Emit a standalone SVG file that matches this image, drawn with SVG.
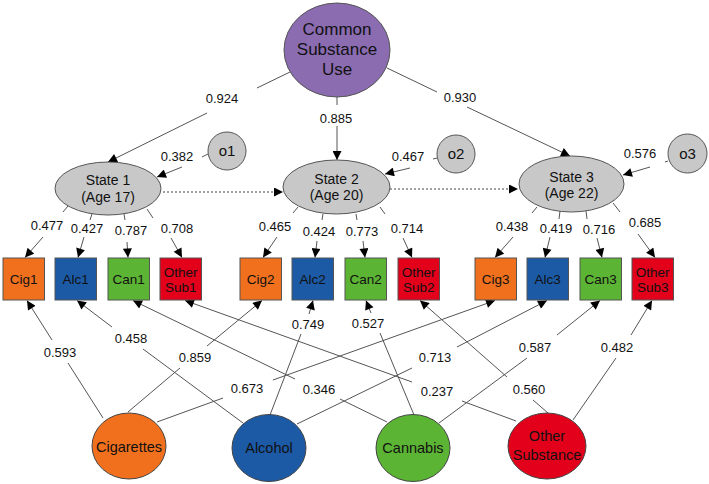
<svg xmlns="http://www.w3.org/2000/svg" width="709" height="484" viewBox="0 0 709 484">
<defs>
<marker id="arr" viewBox="0 0 10 10" refX="10" refY="5" markerWidth="11" markerHeight="9" markerUnits="userSpaceOnUse" orient="auto">
<path d="M0,0 L10,5 L0,10 z" fill="#000"/>
</marker>
</defs>
<style>
text{font-family:"Liberation Sans",Arial,sans-serif;fill:#111;text-anchor:middle}
.lbl{font-size:13px}
.ln{stroke:#555;stroke-width:1;fill:none}
.dot{stroke:#444;stroke-width:1.2;stroke-dasharray:2,2;fill:none}
.st{fill:#c8c8c8;stroke:#555;stroke-width:1}
.st text{font-size:14px}
.err{fill:#c8c8c8;stroke:#555;stroke-width:1}
.box{stroke:#555;stroke-width:1}
.bt{font-size:13.5px}
.lat{stroke:#444;stroke-width:1}
.lt{font-size:14.5px}
.cig{fill:#f0701e}.alc{fill:#1c5aa6}.can{fill:#5cb434}.oth{fill:#e3001b}
</style>
<rect width="709" height="484" fill="#fff"/>
<g id="connectors">
<line class="ln" x1="290" y1="72" x2="257" y2="88"/><line class="ln" x1="207" y1="113" x2="108" y2="162" marker-end="url(#arr)"/>
<line class="ln" x1="337" y1="97" x2="337" y2="105"/><line class="ln" x1="337" y1="126" x2="337" y2="160" marker-end="url(#arr)"/>
<line class="ln" x1="387" y1="68" x2="437" y2="92"/><line class="ln" x1="467" y1="107" x2="570" y2="156" marker-end="url(#arr)"/>
<line class="ln" x1="208" y1="154" x2="202" y2="157"/><line class="ln" x1="182" y1="167" x2="157" y2="177" marker-end="url(#arr)"/>
<line class="ln" x1="437" y1="158" x2="433" y2="159"/><line class="ln" x1="410" y1="168" x2="385" y2="174" marker-end="url(#arr)"/>
<line class="ln" x1="668" y1="161" x2="665" y2="162"/><line class="ln" x1="650" y1="167" x2="623" y2="175" marker-end="url(#arr)"/>
<line class="dot" x1="163" y1="192" x2="283" y2="192" marker-end="url(#arr)"/>
<line class="dot" x1="390" y1="189" x2="518" y2="189" marker-end="url(#arr)"/>
<line class="ln" x1="68" y1="206" x2="63" y2="212"/><line class="ln" x1="43" y1="237" x2="25" y2="257.5" marker-end="url(#arr)"/>
<line class="ln" x1="92" y1="214" x2="90" y2="220"/><line class="ln" x1="84" y1="237" x2="78" y2="257.5" marker-end="url(#arr)"/>
<line class="ln" x1="124" y1="214" x2="125" y2="220"/><line class="ln" x1="127" y1="242" x2="128" y2="257.5" marker-end="url(#arr)"/>
<line class="ln" x1="147" y1="209" x2="153" y2="218"/><line class="ln" x1="171" y1="238" x2="182" y2="257.5" marker-end="url(#arr)"/>
<line class="ln" x1="298" y1="207" x2="293" y2="213"/><line class="ln" x1="277" y1="237" x2="263" y2="257.5" marker-end="url(#arr)"/>
<line class="ln" x1="323" y1="214" x2="322" y2="220"/><line class="ln" x1="317" y1="241" x2="315" y2="257.5" marker-end="url(#arr)"/>
<line class="ln" x1="356" y1="214" x2="357" y2="220"/><line class="ln" x1="363" y1="241" x2="365" y2="257.5" marker-end="url(#arr)"/>
<line class="ln" x1="380" y1="207" x2="385" y2="214"/><line class="ln" x1="403" y1="238" x2="412" y2="257.5" marker-end="url(#arr)"/>
<line class="ln" x1="537" y1="207" x2="532" y2="213"/><line class="ln" x1="513" y1="237" x2="495" y2="257.5" marker-end="url(#arr)"/>
<line class="ln" x1="560" y1="211" x2="559" y2="219"/><line class="ln" x1="550" y1="237" x2="545" y2="257.5" marker-end="url(#arr)"/>
<line class="ln" x1="586" y1="211" x2="587" y2="219"/><line class="ln" x1="597" y1="238" x2="602" y2="257.5" marker-end="url(#arr)"/>
<line class="ln" x1="613" y1="203" x2="620" y2="212"/><line class="ln" x1="638" y1="234" x2="655" y2="257.5" marker-end="url(#arr)"/>
<line class="ln" x1="103" y1="418" x2="68" y2="363"/><line class="ln" x1="52" y1="340" x2="27" y2="300.5" marker-end="url(#arr)"/>
<line class="ln" x1="128" y1="412" x2="180" y2="368"/><line class="ln" x1="207" y1="346" x2="262" y2="300.5" marker-end="url(#arr)"/>
<line class="ln" x1="157" y1="422" x2="223" y2="398"/><line class="ln" x1="273" y1="380" x2="495" y2="300.5" marker-end="url(#arr)"/>
<line class="ln" x1="243" y1="423" x2="143" y2="349"/><line class="ln" x1="112" y1="327" x2="77" y2="300.5" marker-end="url(#arr)"/>
<line class="ln" x1="270" y1="415" x2="301" y2="334"/><line class="ln" x1="309" y1="314" x2="313" y2="300.5" marker-end="url(#arr)"/>
<line class="ln" x1="297" y1="424" x2="412" y2="368"/><line class="ln" x1="457" y1="347" x2="547" y2="300.5" marker-end="url(#arr)"/>
<line class="ln" x1="387" y1="422" x2="340" y2="399"/><line class="ln" x1="295" y1="379" x2="133" y2="300.5" marker-end="url(#arr)"/>
<line class="ln" x1="414" y1="415" x2="380" y2="333"/><line class="ln" x1="371" y1="313" x2="366" y2="300.5" marker-end="url(#arr)"/>
<line class="ln" x1="439" y1="423" x2="527" y2="358"/><line class="ln" x1="557" y1="335" x2="600" y2="300.5" marker-end="url(#arr)"/>
<line class="ln" x1="516" y1="421" x2="462" y2="401"/><line class="ln" x1="412" y1="382" x2="185" y2="300.5" marker-end="url(#arr)"/>
<line class="ln" x1="548" y1="413" x2="533" y2="400"/><line class="ln" x1="507" y1="377" x2="420" y2="300.5" marker-end="url(#arr)"/>
<line class="ln" x1="573" y1="420" x2="616" y2="358"/><line class="ln" x1="631" y1="335" x2="652" y2="300.5" marker-end="url(#arr)"/>
<g class="lbl">
<text class="lbl" x="222" y="103">0.924</text>
<text class="lbl" x="336" y="123">0.885</text>
<text class="lbl" x="460" y="102">0.930</text>
<text class="lbl" x="177" y="161">0.382</text>
<text class="lbl" x="408" y="161">0.467</text>
<text class="lbl" x="640" y="158">0.576</text>
<text class="lbl" x="47" y="230">0.477</text>
<text class="lbl" x="87" y="233">0.427</text>
<text class="lbl" x="131" y="235">0.787</text>
<text class="lbl" x="177" y="233">0.708</text>
<text class="lbl" x="275" y="231">0.465</text>
<text class="lbl" x="319" y="236">0.424</text>
<text class="lbl" x="362" y="236">0.773</text>
<text class="lbl" x="407" y="233">0.714</text>
<text class="lbl" x="512" y="231">0.438</text>
<text class="lbl" x="556" y="233">0.419</text>
<text class="lbl" x="599" y="234">0.716</text>
<text class="lbl" x="645" y="227">0.685</text>
<text class="lbl" x="60" y="357">0.593</text>
<text class="lbl" x="131" y="343">0.458</text>
<text class="lbl" x="195" y="362">0.859</text>
<text class="lbl" x="247" y="393">0.673</text>
<text class="lbl" x="319" y="394">0.346</text>
<text class="lbl" x="308" y="329">0.749</text>
<text class="lbl" x="368" y="328">0.527</text>
<text class="lbl" x="435" y="362">0.713</text>
<text class="lbl" x="437" y="396">0.237</text>
<text class="lbl" x="535" y="352">0.587</text>
<text class="lbl" x="529" y="394">0.560</text>
<text class="lbl" x="617" y="352">0.482</text>
</g>
</g>
<g id="csu"><ellipse cx="337" cy="50" rx="53" ry="47" fill="#8b6cb1" stroke="#555"/>
<text x="337" y="35" font-size="17">Common</text><text x="337" y="55" font-size="17">Substance</text><text x="337" y="75" font-size="17">Use</text></g>
<g id="state1"><ellipse class="st" cx="108" cy="188.5" rx="53" ry="26.5"/><text x="108" y="185" font-size="14">State 1</text><text x="108" y="202" font-size="14">(Age 17)</text></g>
<g id="state2"><ellipse class="st" cx="336.5" cy="187" rx="53.5" ry="27"/><text x="336.5" y="184" font-size="14">State 2</text><text x="336.5" y="200" font-size="14">(Age 20)</text></g>
<g id="state3"><ellipse class="st" cx="571.5" cy="184" rx="52.5" ry="28"/><text x="571.5" y="182" font-size="14">State 3</text><text x="571.5" y="198" font-size="14">(Age 22)</text></g>
<g id="o1"><circle class="err" cx="227" cy="151" r="19"/><text x="227" y="156" font-size="15">o1</text></g>
<g id="o2"><circle class="err" cx="456" cy="154" r="19"/><text x="456" y="159" font-size="15">o2</text></g>
<g id="o3"><circle class="err" cx="687.5" cy="153.5" r="19.5"/><text x="687.5" y="158.5" font-size="15">o3</text></g>
<g id="cig1"><rect class="box cig" x="3" y="258" width="41.5" height="42"/><text class="bt" x="23.7" y="284">Cig1</text></g>
<g id="alc1"><rect class="box alc" x="55" y="258" width="41.5" height="42"/><text class="bt" x="75.7" y="284">Alc1</text></g>
<g id="can1"><rect class="box can" x="108" y="258" width="41.5" height="42"/><text class="bt" x="128.7" y="284">Can1</text></g>
<g id="oth1"><rect class="box oth" x="160" y="258" width="41.5" height="42"/><text class="bt" x="180.7" y="277">Other</text><text class="bt" x="180.7" y="292">Sub1</text></g>
<g id="cig2"><rect class="box cig" x="240" y="258" width="41.5" height="42"/><text class="bt" x="260.7" y="284">Cig2</text></g>
<g id="alc2"><rect class="box alc" x="292" y="258" width="41.5" height="42"/><text class="bt" x="312.7" y="284">Alc2</text></g>
<g id="can2"><rect class="box can" x="345" y="258" width="41.5" height="42"/><text class="bt" x="365.7" y="284">Can2</text></g>
<g id="oth2"><rect class="box oth" x="398" y="258" width="41.5" height="42"/><text class="bt" x="418.7" y="277">Other</text><text class="bt" x="418.7" y="292">Sub2</text></g>
<g id="cig3"><rect class="box cig" x="475" y="258" width="41.5" height="42"/><text class="bt" x="495.7" y="284">Cig3</text></g>
<g id="alc3"><rect class="box alc" x="527" y="258" width="41.5" height="42"/><text class="bt" x="547.7" y="284">Alc3</text></g>
<g id="can3"><rect class="box can" x="580" y="258" width="41.5" height="42"/><text class="bt" x="600.7" y="284">Can3</text></g>
<g id="oth3"><rect class="box oth" x="632" y="258" width="41.5" height="42"/><text class="bt" x="652.7" y="277">Other</text><text class="bt" x="652.7" y="292">Sub3</text></g>
<g id="cigarettes"><ellipse class="lat cig" cx="129" cy="446" rx="37" ry="33"/><text class="lt" x="129" y="452">Cigarettes</text></g>
<g id="alcohol"><ellipse class="lat alc" cx="269" cy="448" rx="37" ry="33.5"/><text class="lt" x="269" y="453">Alcohol</text></g>
<g id="cannabis"><ellipse class="lat can" cx="413" cy="448" rx="37" ry="33.5"/><text class="lt" x="413" y="453">Cannabis</text></g>
<g id="othersub"><ellipse class="lat oth" cx="547" cy="446" rx="39" ry="33"/><text class="lt" x="547" y="441">Other</text><text class="lt" x="547" y="460">Substance</text></g>
</svg>
